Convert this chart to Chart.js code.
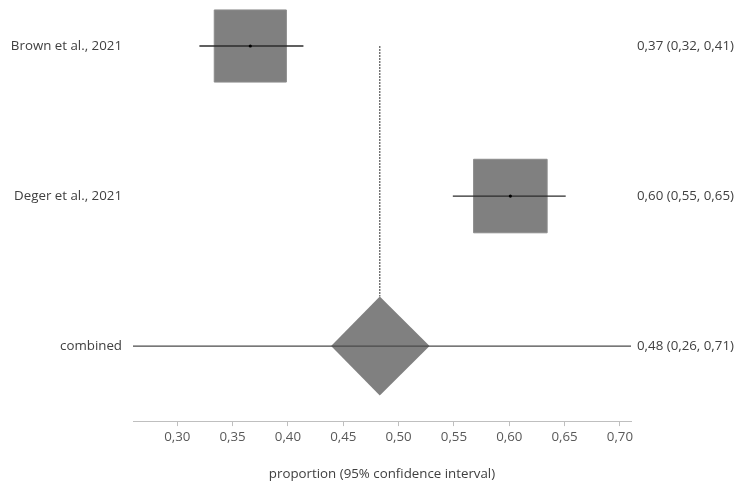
<!DOCTYPE html>
<html>
<head>
<meta charset="utf-8">
<script src="https://cdn.jsdelivr.net/npm/chart.js@4.4.1/dist/chart.umd.min.js"></script>
<style>
  html, body { margin: 0; padding: 0; background: #fff; }
  #wrap { width: 748px; height: 491px; }
</style>
</head>
<body>
<div id="wrap"><canvas id="forest"></canvas></div>
<script>
// ---- données ----
const studyNames = ['Brown et al., 2021', 'Deger et al., 2021'];
const studyRows = [2, 1];
const studyEstimates = [0.366, 0.601];
const studyLower = [0.320, 0.549];
const studyUpper = [0.414, 0.651];
const studyBoxRadius = [51, 52];

const combinedName = 'combined';
const combinedRow = 0;
const combinedEstimate = 0.483;
const combinedLower = 0.439;
const combinedUpper = 0.528;
const predictionLower = 0.26;
const predictionUpper = 0.71;

const rightLabels = ['0,37 (0,32, 0,41)', '0,60 (0,55, 0,65)', '0,48 (0,26, 0,71)'];
const xTicks = [0.30, 0.35, 0.40, 0.45, 0.50, 0.55, 0.60, 0.65, 0.70];
const xTitle = 'proportion (95% confidence interval)';

const FONT = "'Open Sans', sans-serif";
const FONT_SIZE = 13.3;
const diamondHalf = 0.33;

// barres d'erreur des études
const ciSets = studyNames.map((name, i) => ({
    label: name + ' CI',
    data: [{ x: studyLower[i], y: studyRows[i] }, { x: studyUpper[i], y: studyRows[i] }],
    showLine: true,
    borderColor: '#2b2b2b',
    borderWidth: 1.3,
    pointRadius: 0,
    order: 2
}));

// étiquettes à gauche et à droite
const labelPlugin = {
    id: 'rowLabels',
    afterDraw(chart) {
        const { ctx, chartArea, scales } = chart;
        const names = studyNames.concat([combinedName]);
        const rows = studyRows.concat([combinedRow]);
        ctx.save();
        ctx.font = FONT_SIZE + 'px ' + FONT;
        ctx.fillStyle = '#404040';
        ctx.textBaseline = 'middle';
        rows.forEach((r, i) => {
            const y = scales.y.getPixelForValue(r);
            ctx.textAlign = 'right';
            ctx.fillText(names[i], chartArea.left - 11, y);
            ctx.textAlign = 'left';
            ctx.fillText(rightLabels[i], chartArea.right + 6, y);
        });
        ctx.restore();
    }
};

const ctx = document.getElementById('forest').getContext('2d');
new Chart(ctx, {
    type: 'scatter',
    data: {
        datasets: [
            {
                label: 'points',
                data: studyEstimates.map((v, i) => ({ x: v, y: studyRows[i] })),
                pointStyle: 'circle',
                pointRadius: 1.6,
                backgroundColor: '#000',
                borderWidth: 0,
                order: 1
            },
            ...ciSets,
            {
                label: 'combined CI',
                data: [{ x: predictionLower, y: combinedRow }, { x: predictionUpper, y: combinedRow }],
                showLine: true,
                borderColor: '#4a4a4a',
                borderWidth: 1.3,
                pointRadius: 0,
                order: 2
            },
            {
                label: 'reference',
                data: [{ x: combinedEstimate, y: studyRows[0] }, { x: combinedEstimate, y: combinedRow + diamondHalf }],
                showLine: true,
                borderColor: '#555',
                borderWidth: 1.2,
                borderDash: [2, 1],
                pointRadius: 0,
                order: 3
            },
            {
                label: 'diamond top',
                data: [
                    { x: combinedLower, y: combinedRow },
                    { x: combinedEstimate, y: combinedRow + diamondHalf },
                    { x: combinedUpper, y: combinedRow }
                ],
                showLine: true,
                borderWidth: 0,
                borderColor: 'rgba(0,0,0,0)',
                backgroundColor: '#808080',
                fill: '+1',
                pointRadius: 0,
                tension: 0,
                order: 4
            },
            {
                label: 'diamond bottom',
                data: [
                    { x: combinedLower, y: combinedRow },
                    { x: combinedEstimate, y: combinedRow - diamondHalf },
                    { x: combinedUpper, y: combinedRow }
                ],
                showLine: true,
                borderWidth: 0,
                borderColor: 'rgba(0,0,0,0)',
                pointRadius: 0,
                tension: 0,
                order: 4
            },
            {
                label: 'boxes',
                data: studyEstimates.map((v, i) => ({ x: v, y: studyRows[i] })),
                pointStyle: 'rect',
                pointRadius: studyBoxRadius,
                backgroundColor: '#808080',
                borderColor: '#8c8c8c',
                borderWidth: 1,
                order: 5
            }
        ]
    },
    options: {
        responsive: true,
        maintainAspectRatio: false,
        animation: false,
        layout: { autoPadding: false, padding: { left: 133, right: 117, top: 1, bottom: 7 } },
        plugins: {
            legend: { display: false },
            tooltip: { enabled: false }
        },
        scales: {
            x: {
                type: 'linear',
                min: predictionLower,
                max: predictionUpper,
                afterBuildTicks: axis => { axis.ticks = xTicks.map(v => ({ value: v })); },
                grid: {
                    drawOnChartArea: false,
                    drawTicks: true,
                    tickLength: 5,
                    tickColor: '#bfbfbf'
                },
                border: { display: true, color: '#bfbfbf', width: 1 },
                ticks: {
                    padding: 3,
                    color: '#595959',
                    font: { family: FONT, size: FONT_SIZE },
                    callback: v => v.toFixed(2).replace('.', ',')
                },
                title: {
                    display: true,
                    text: xTitle,
                    color: '#404040',
                    font: { family: FONT, size: FONT_SIZE },
                    padding: { top: 18, bottom: 2 }
                }
            },
            y: {
                type: 'linear',
                display: false,
                min: -0.5,
                max: 2.3
            }
        }
    },
    plugins: [labelPlugin]
});
</script>
</body>
</html>
